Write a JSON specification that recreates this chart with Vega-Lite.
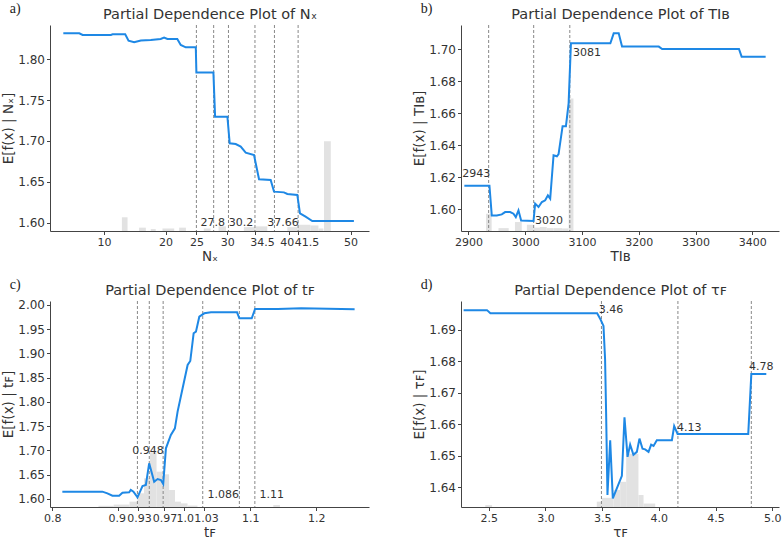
{
  "$schema": "https://vega.github.io/schema/vega-lite/v6.json",
  "padding": {"left": 1, "top": 2, "right": 2, "bottom": 2},
  "background": "white",
  "config": {
    "view": {"stroke": null},
    "axis": {"labelFont": "DejaVu Sans", "titleFont": "DejaVu Sans", "labelFontSize": 12, "titleFontSize": 13.5, "titleFontWeight": "normal", "labelColor": "#333", "titleColor": "#333", "domainColor": "#444", "tickColor": "#444", "tickSize": 3.5, "grid": false, "labelPadding": 2, "titlePadding": 2, "labelOverlap": false, "labelFlush": false},
    "axisBottom": {"labelFontSize": 11},
    "title": {"font": "Liberation Serif", "fontSize": 14, "fontWeight": "normal", "anchor": "start", "frame": "bounds", "color": "#222", "offset": -10, "dx": 8},
    "text": {"font": "DejaVu Sans", "fontSize": 11, "color": "#333", "align": "center", "baseline": "middle"},
    "rule": {"color": "#888", "strokeDash": [3, 2], "strokeWidth": 1},
    "rect": {"color": "#e2e2e2"},
    "line": {"color": "#1E88E5", "strokeWidth": 2}
  },
  "datasets": {
    "a_line": [{"x":3.41,"y":1.8318},{"x":6.0,"y":1.8318},{"x":6.54,"y":1.8298},{"x":11.13,"y":1.8298},{"x":11.4,"y":1.8306},{"x":13.45,"y":1.8306},{"x":13.99,"y":1.8229},{"x":14.9,"y":1.8208},{"x":15.99,"y":1.8229},{"x":17.6,"y":1.8237},{"x":19.2,"y":1.8249},{"x":19.76,"y":1.8265},{"x":20.3,"y":1.8249},{"x":21.9,"y":1.8249},{"x":22.46,"y":1.8176},{"x":23.27,"y":1.8147},{"x":24.9,"y":1.8147},{"x":25.0,"y":1.7837},{"x":27.76,"y":1.7837},{"x":28.03,"y":1.7298},{"x":30.03,"y":1.7298},{"x":30.4,"y":1.6971},{"x":31.38,"y":1.6963},{"x":32.19,"y":1.6931},{"x":33.0,"y":1.6857},{"x":34.35,"y":1.6829},{"x":34.62,"y":1.6727},{"x":35.16,"y":1.6531},{"x":37.05,"y":1.6522},{"x":37.59,"y":1.638},{"x":39.2,"y":1.6371},{"x":39.75,"y":1.6351},{"x":41.37,"y":1.6339},{"x":41.8,"y":1.6114},{"x":42.71,"y":1.6073},{"x":43.8,"y":1.602},{"x":50.55,"y":1.602}],
    "a_hist": [{"x0":12.91,"x1":13.83,"y":1.6066},{"x0":15.7,"x1":16.8,"y":1.5939},{"x0":17.6,"x1":18.4,"y":1.5922},{"x0":19.5,"x1":21.4,"y":1.5929},{"x0":22.2,"x1":23.3,"y":1.5939},{"x0":26.2,"x1":27.3,"y":1.5929},{"x0":28.6,"x1":29.8,"y":1.5955},{"x0":32.7,"x1":34.6,"y":1.5945},{"x0":34.6,"x1":36.5,"y":1.5955},{"x0":39.75,"x1":41.4,"y":1.5945},{"x0":41.4,"x1":43.5,"y":1.5976},{"x0":43.5,"x1":44.8,"y":1.5966},{"x0":44.8,"x1":45.6,"y":1.5929},{"x0":45.7,"x1":46.8,"y":1.6997}],
    "a_vl": [{"x":25,"label":"25"},{"x":27.8,"label":"27.8"},{"x":30.2,"label":"30.2"},{"x":34.5,"label":"34.5"},{"x":37.66,"label":"37.66"},{"x":41.5,"label":"41.5"}],
    "a_txt": [{"x":27.65,"y":1.6,"label":"27.8"},{"x":32.24,"y":1.6,"label":"30.2"},{"x":39.04,"y":1.6,"label":"37.66"}],
    "b_line": [{"x":2892.9,"y":1.6148},{"x":2937.1,"y":1.6148},{"x":2941.2,"y":1.5962},{"x":2950,"y":1.5962},{"x":2958.8,"y":1.5969},{"x":2964.7,"y":1.5983},{"x":2973.5,"y":1.5983},{"x":2979.4,"y":1.5973},{"x":2983.5,"y":1.5952},{"x":2988.2,"y":1.5994},{"x":2992.9,"y":1.5931},{"x":3014.7,"y":1.5927},{"x":3017.6,"y":1.6036},{"x":3023.5,"y":1.6015},{"x":3029.4,"y":1.6046},{"x":3035.3,"y":1.6057},{"x":3040,"y":1.6088},{"x":3044.1,"y":1.6067},{"x":3050,"y":1.6338},{"x":3055.9,"y":1.6332},{"x":3058.8,"y":1.6345},{"x":3065.9,"y":1.652},{"x":3071.8,"y":1.652},{"x":3076.5,"y":1.6662},{"x":3080.6,"y":1.7038},{"x":3150,"y":1.7038},{"x":3155.9,"y":1.71},{"x":3164.7,"y":1.71},{"x":3170.6,"y":1.7017},{"x":3235.3,"y":1.7017},{"x":3241.2,"y":1.7002},{"x":3376.5,"y":1.7002},{"x":3381.2,"y":1.6954},{"x":3423.5,"y":1.6954}],
    "b_hist": [{"x0":2931,"x1":2941,"y":1.5973},{"x0":2953,"x1":2971,"y":1.5883},{"x0":2982,"x1":2994,"y":1.5921},{"x0":3003,"x1":3015,"y":1.5904},{"x0":3015,"x1":3026,"y":1.5886},{"x0":3026,"x1":3038,"y":1.589},{"x0":3038,"x1":3050,"y":1.5883},{"x0":3050,"x1":3065,"y":1.5883},{"x0":3065,"x1":3076,"y":1.5881},{"x0":3076.5,"x1":3085,"y":1.6693}],
    "b_vl": [{"x":2935.7,"label":"2943"},{"x":3015,"label":"3020"},{"x":3078.6,"label":"3081"}],
    "b_txt": [{"x":2914,"y":1.6224,"label":"2943"},{"x":3041.8,"y":1.5925,"label":"3020"},{"x":3108.8,"y":1.6975,"label":"3081"}],
    "c_line": [{"x":0.8152,"y":1.6151},{"x":0.8759,"y":1.6151},{"x":0.8835,"y":1.6117},{"x":0.8911,"y":1.6069},{"x":0.9013,"y":1.6069},{"x":0.9063,"y":1.6131},{"x":0.9165,"y":1.6137},{"x":0.919,"y":1.6186},{"x":0.923,"y":1.6151},{"x":0.9291,"y":1.6034},{"x":0.9367,"y":1.6268},{"x":0.9418,"y":1.6289},{"x":0.9468,"y":1.6735},{"x":0.9544,"y":1.6357},{"x":0.9595,"y":1.6412},{"x":0.9646,"y":1.6392},{"x":0.9681,"y":1.6309},{"x":0.9722,"y":1.7045},{"x":0.9797,"y":1.732},{"x":0.9858,"y":1.7457},{"x":0.9899,"y":1.7801},{"x":0.9975,"y":1.8282},{"x":1.0051,"y":1.8763},{"x":1.0091,"y":1.8845},{"x":1.0142,"y":1.9416},{"x":1.0177,"y":1.945},{"x":1.0228,"y":1.9759},{"x":1.0304,"y":1.9828},{"x":1.0405,"y":1.9849},{"x":1.08,"y":1.9849},{"x":1.0835,"y":1.9725},{"x":1.1023,"y":1.9725},{"x":1.1073,"y":1.9918},{"x":1.1418,"y":1.9918},{"x":1.1772,"y":1.9931},{"x":1.2582,"y":1.9911}],
    "c_hist": [{"x0":0.87,"x1":0.893,"y":1.586},{"x0":0.893,"x1":0.917,"y":1.5885},{"x0":0.917,"x1":0.929,"y":1.5945},{"x0":0.929,"x1":0.939,"y":1.6117},{"x0":0.939,"x1":0.948,"y":1.6426},{"x0":0.948,"x1":0.958,"y":1.6962},{"x0":0.958,"x1":0.968,"y":1.6564},{"x0":0.968,"x1":0.977,"y":1.6509},{"x0":0.977,"x1":0.986,"y":1.6186},{"x0":0.986,"x1":0.995,"y":1.5945},{"x0":0.995,"x1":1.005,"y":1.591},{"x0":1.005,"x1":1.02,"y":1.5865},{"x0":1.135,"x1":1.145,"y":1.5876}],
    "c_vl": [{"x":0.929,"label":"0.93"},{"x":0.947,"label":"0.948"},{"x":0.968,"label":"0.97"},{"x":1.028,"label":"1.03"},{"x":1.0835,"label":"1.086"},{"x":1.107,"label":"1.11"}],
    "c_txt": [{"x":0.945,"y":1.698,"label":"0.948"},{"x":1.0592,"y":1.6083,"label":"1.086"},{"x":1.1327,"y":1.6083,"label":"1.11"}],
    "d_line": [{"x":2.279,"y":1.6963},{"x":2.485,"y":1.6963},{"x":2.515,"y":1.6953},{"x":3.456,"y":1.6953},{"x":3.485,"y":1.6934},{"x":3.512,"y":1.6913},{"x":3.526,"y":1.6807},{"x":3.535,"y":1.6639},{"x":3.547,"y":1.6376},{"x":3.571,"y":1.655},{"x":3.594,"y":1.6365},{"x":3.674,"y":1.6437},{"x":3.697,"y":1.6623},{"x":3.724,"y":1.6497},{"x":3.747,"y":1.6536},{"x":3.776,"y":1.6504},{"x":3.806,"y":1.6513},{"x":3.829,"y":1.6555},{"x":3.856,"y":1.6523},{"x":3.879,"y":1.6521},{"x":3.909,"y":1.6513},{"x":3.932,"y":1.6536},{"x":3.953,"y":1.6532},{"x":3.982,"y":1.655},{"x":4.115,"y":1.655},{"x":4.135,"y":1.6595},{"x":4.165,"y":1.657},{"x":4.788,"y":1.657},{"x":4.815,"y":1.676},{"x":4.947,"y":1.676}],
    "d_hist": [{"x0":2.47,"x1":2.53,"y":1.6344},{"x0":3.453,"x1":3.497,"y":1.6355},{"x0":3.497,"x1":3.6,"y":1.6367},{"x0":3.6,"x1":3.659,"y":1.6392},{"x0":3.659,"x1":3.712,"y":1.6418},{"x0":3.712,"x1":3.82,"y":1.6507},{"x0":3.82,"x1":3.865,"y":1.6376},{"x0":3.865,"x1":3.968,"y":1.6349}],
    "d_vl": [{"x":3.494,"label":"3.46"},{"x":4.168,"label":"4.13"},{"x":4.815,"label":"4.78"}],
    "d_txt": [{"x":3.579,"y":1.6962,"label":"3.46"},{"x":4.268,"y":1.659,"label":"4.13"},{"x":4.903,"y":1.6781,"label":"4.78"}]
  },
  "spacing": 15,
  "vconcat": [
    {
      "spacing": 43,
      "hconcat": [
        {
          "width": 319, "height": 206,
          "title": "a)",
          "resolve": {"axis": {"x": "independent"}},
          "layer": [
            {"data": {"name": "a_hist"}, "mark": "rect",
             "encoding": {
               "x": {"field": "x0", "type": "quantitative", "scale": {"domain": [1.25, 53], "nice": false, "zero": false}, "axis": {"title": "Nₓ", "values": [10, 20, 25, 30, 34.5, 40, 41.5, 50], "labelExpr": "toString(datum.value)", "labelOffset": {"condition": [{"test": "datum.value == 34.5", "value": 7}, {"test": "datum.value == 41.5", "value": 8.5}, {"test": "datum.value == 40", "value": -2}], "value": 0}}},
               "x2": {"field": "x1"},
               "y": {"field": "y", "type": "quantitative", "scale": {"domain": [1.5898, 1.842], "nice": false, "zero": false}, "axis": {"title": "E[f(x) | Nₓ]", "values": [1.6, 1.65, 1.7, 1.75, 1.8], "format": ".2f"}},
               "y2": {"datum": 1.5898}
             }},
            {"data": {"name": "a_vl"}, "mark": "rule",
             "encoding": {"x": {"field": "x", "type": "quantitative", "axis": {"orient": "top", "title": "Partial Dependence Plot of Nₓ", "domain": false, "ticks": false, "labels": false, "titleFontSize": 14.5, "titlePadding": 4}}}},
            {"data": {"name": "a_line"}, "mark": "line",
             "encoding": {"x": {"field": "x", "type": "quantitative", "axis": null}, "y": {"field": "y", "type": "quantitative", "axis": {"title": "E[f(x) | Nₓ]", "values": [1.6, 1.65, 1.7, 1.75, 1.8], "format": ".2f"}}}},
            {"data": {"name": "a_txt"}, "mark": "text",
             "encoding": {"x": {"field": "x", "type": "quantitative", "axis": null}, "y": {"field": "y", "type": "quantitative", "axis": {"title": "E[f(x) | Nₓ]", "values": [1.6, 1.65, 1.7, 1.75, 1.8], "format": ".2f"}}, "text": {"field": "label"}}}
          ]
        },
        {
          "width": 318, "height": 206,
          "title": "b)",
          "resolve": {"axis": {"x": "independent"}},
          "layer": [
            {"data": {"name": "b_hist"}, "mark": "rect",
             "encoding": {
               "x": {"field": "x0", "type": "quantitative", "scale": {"domain": [2887, 3447], "nice": false, "zero": false}, "axis": {"title": "TIʙ", "values": [2900, 3000, 3100, 3200, 3300, 3400], "format": "d"}},
               "x2": {"field": "x1"},
               "y": {"field": "y", "type": "quantitative", "scale": {"domain": [1.5865, 1.7152], "nice": false, "zero": false}, "axis": {"title": "E[f(x) | TIʙ]", "values": [1.6, 1.62, 1.64, 1.66, 1.68, 1.7], "format": ".2f"}},
               "y2": {"datum": 1.5865}
             }},
            {"data": {"name": "b_vl"}, "mark": "rule",
             "encoding": {"x": {"field": "x", "type": "quantitative", "axis": {"orient": "top", "title": "Partial Dependence Plot of TIʙ", "domain": false, "ticks": false, "labels": false, "titleFontSize": 14.5, "titlePadding": 4}}}},
            {"data": {"name": "b_line"}, "mark": "line",
             "encoding": {"x": {"field": "x", "type": "quantitative", "axis": null}, "y": {"field": "y", "type": "quantitative", "axis": {"title": "E[f(x) | TIʙ]", "values": [1.6, 1.62, 1.64, 1.66, 1.68, 1.7], "format": ".2f"}}}},
            {"data": {"name": "b_txt"}, "mark": "text",
             "encoding": {"x": {"field": "x", "type": "quantitative", "axis": null}, "y": {"field": "y", "type": "quantitative", "axis": {"title": "E[f(x) | TIʙ]", "values": [1.6, 1.62, 1.64, 1.66, 1.68, 1.7], "format": ".2f"}}, "text": {"field": "label"}}}
          ]
        }
      ]
    },
    {
      "spacing": 43,
      "hconcat": [
        {
          "width": 319, "height": 206,
          "title": "c)",
          "resolve": {"axis": {"x": "independent"}},
          "layer": [
            {"data": {"name": "c_hist"}, "mark": "rect",
             "encoding": {
               "x": {"field": "x0", "type": "quantitative", "scale": {"domain": [0.7965, 1.28], "nice": false, "zero": false}, "axis": {"title": "tꜰ", "values": [0.8, 0.9, 0.93, 0.97, 1.0, 1.03, 1.1, 1.2], "labelExpr": "(datum.value == 0.93 || datum.value == 0.97 || datum.value == 1.03) ? format(datum.value, '.2f') : format(datum.value, '.1f')", "labelOffset": {"condition": [{"test": "datum.value == 0.9", "value": -1.5}, {"test": "datum.value == 0.93", "value": 1}, {"test": "datum.value == 1.0", "value": 0.5}, {"test": "datum.value == 1.03", "value": 2}], "value": 0}}},
               "x2": {"field": "x1"},
               "y": {"field": "y", "type": "quantitative", "scale": {"domain": [1.5835, 2.0082], "nice": false, "zero": false}, "axis": {"title": "E[f(x) | tꜰ]", "values": [1.6, 1.65, 1.7, 1.75, 1.8, 1.85, 1.9, 1.95, 2.0], "format": ".2f"}},
               "y2": {"datum": 1.5835}
             }},
            {"data": {"name": "c_vl"}, "mark": "rule",
             "encoding": {"x": {"field": "x", "type": "quantitative", "axis": {"orient": "top", "title": "Partial Dependence Plot of tꜰ", "domain": false, "ticks": false, "labels": false, "titleFontSize": 14.5, "titlePadding": 4}}}},
            {"data": {"name": "c_line"}, "mark": "line",
             "encoding": {"x": {"field": "x", "type": "quantitative", "axis": null}, "y": {"field": "y", "type": "quantitative", "axis": {"title": "E[f(x) | tꜰ]", "values": [1.6, 1.65, 1.7, 1.75, 1.8, 1.85, 1.9, 1.95, 2.0], "format": ".2f"}}}},
            {"data": {"name": "c_txt"}, "mark": "text",
             "encoding": {"x": {"field": "x", "type": "quantitative", "axis": null}, "y": {"field": "y", "type": "quantitative", "axis": {"title": "E[f(x) | tꜰ]", "values": [1.6, 1.65, 1.7, 1.75, 1.8, 1.85, 1.9, 1.95, 2.0], "format": ".2f"}}, "text": {"field": "label"}}}
          ]
        },
        {
          "width": 318, "height": 206,
          "title": "d)",
          "resolve": {"axis": {"x": "independent"}},
          "layer": [
            {"data": {"name": "d_hist"}, "mark": "rect",
             "encoding": {
               "x": {"field": "x0", "type": "quantitative", "scale": {"domain": [2.256, 5.059], "nice": false, "zero": false}, "axis": {"title": "τꜰ", "values": [2.5, 3.0, 3.5, 4.0, 4.5, 5.0], "format": ".1f"}},
               "x2": {"field": "x1"},
               "y": {"field": "y", "type": "quantitative", "scale": {"domain": [1.6338, 1.6992], "nice": false, "zero": false}, "axis": {"title": "E[f(x) | τꜰ]", "values": [1.64, 1.65, 1.66, 1.67, 1.68, 1.69], "format": ".2f"}},
               "y2": {"datum": 1.6338}
             }},
            {"data": {"name": "d_vl"}, "mark": "rule",
             "encoding": {"x": {"field": "x", "type": "quantitative", "axis": {"orient": "top", "title": "Partial Dependence Plot of τꜰ", "domain": false, "ticks": false, "labels": false, "titleFontSize": 14.5, "titlePadding": 4}}}},
            {"data": {"name": "d_line"}, "mark": "line",
             "encoding": {"x": {"field": "x", "type": "quantitative", "axis": null}, "y": {"field": "y", "type": "quantitative", "axis": {"title": "E[f(x) | τꜰ]", "values": [1.64, 1.65, 1.66, 1.67, 1.68, 1.69], "format": ".2f"}}}},
            {"data": {"name": "d_txt"}, "mark": "text",
             "encoding": {"x": {"field": "x", "type": "quantitative", "axis": null}, "y": {"field": "y", "type": "quantitative", "axis": {"title": "E[f(x) | τꜰ]", "values": [1.64, 1.65, 1.66, 1.67, 1.68, 1.69], "format": ".2f"}}, "text": {"field": "label"}}}
          ]
        }
      ]
    }
  ]
}
